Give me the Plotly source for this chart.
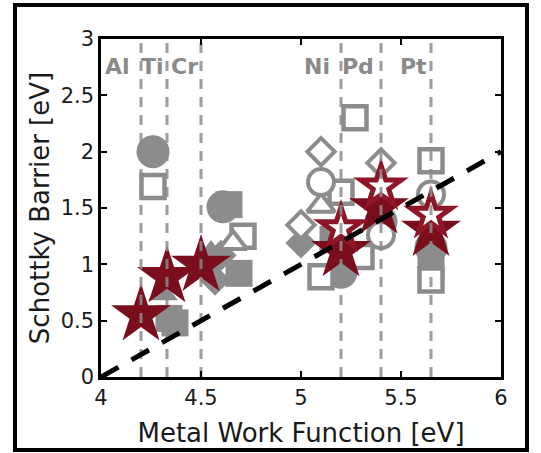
import plotly.graph_objects as go

# ---- data ----
metal_names = ["Al", "Ti", "Cr", "Ni", "Pd", "Pt"]
metal_lines = [4.20, 4.33, 4.50, 5.20, 5.40, 5.65]
label_x = [4.08, 4.255, 4.415, 5.08, 5.285, 5.56]
label_y = 2.76

gray_fcircle_x = [4.26, 4.61, 5.20, 5.65, 5.40]
gray_fcircle_y = [2.00, 1.51, 0.93, 1.15, 1.38]

gray_fsquare_x = [4.64, 4.69, 4.34, 5.65, 5.16, 4.37]
gray_fsquare_y = [1.53, 0.92, 0.52, 1.00, 1.22, 0.48]

gray_fdiamond_x = [4.57, 5.00, 4.60]
gray_fdiamond_y = [0.86, 1.19, 1.08]

gray_ftri_x = [4.31, 4.55]
gray_ftri_y = [0.74, 1.10]

gray_osquare_x = [4.26, 4.71, 5.27, 5.20, 5.10, 5.30, 5.65, 5.65]
gray_osquare_y = [1.69, 1.25, 2.30, 1.64, 0.89, 1.07, 1.92, 0.86]

gray_odiamond_x = [5.10, 5.00, 5.40]
gray_odiamond_y = [2.00, 1.35, 1.90]

gray_otri_x = [4.66, 5.10]
gray_otri_y = [1.19, 1.52]

gray_ocircle_x = [5.10, 5.40, 5.65]
gray_ocircle_y = [1.73, 1.26, 1.62]

star_x = [4.20, 4.33, 4.50, 5.20, 5.39, 5.65]
star_y = [0.55, 0.89, 0.99, 1.12, 1.50, 1.30]

ostar_x = [5.20, 5.40, 5.65]
ostar_y = [1.32, 1.69, 1.44]

fit_x = [4.0, 6.0]
fit_y = [0.0, 2.0]

x_ticks = [4, 4.5, 5, 5.5, 6]
x_ticklabels = ["4", "4.5", "5", "5.5", "6"]
y_ticks = [0, 0.5, 1, 1.5, 2, 2.5, 3]
y_ticklabels = ["0", "0.5", "1", "1.5", "2", "2.5", "3"]

GRAY = "#8c8c8c"
RED = "#7a0e1c"
RED2 = "#8e1627"
TXT = "#1a1a1a"

fig = go.Figure()

def add(x, y, symbol, size, fill, line_color=None, line_width=0):
    fig.add_trace(go.Scatter(
        x=x, y=y, mode="markers", hoverinfo="skip",
        marker=dict(symbol=symbol, size=size, color=fill,
                    line=dict(color=line_color or fill, width=line_width)),
    ))

# gray filled markers
add(gray_fsquare_x, gray_fsquare_y, "square", 27, GRAY)
add(gray_fcircle_x, gray_fcircle_y, "circle", 33, GRAY)
add(gray_fdiamond_x, gray_fdiamond_y, "diamond", 24, GRAY)
add(gray_ftri_x, gray_ftri_y, "triangle-up", 26, GRAY)
# gray open markers
add(gray_osquare_x, gray_osquare_y, "square", 23, "white", GRAY, 4.5)
add(gray_odiamond_x, gray_odiamond_y, "diamond", 21, "white", GRAY, 4)
add(gray_otri_x, gray_otri_y, "triangle-up", 24, "white", GRAY, 4)
add(gray_ocircle_x, gray_ocircle_y, "circle", 26, "white", GRAY, 4)
# red stars
add(star_x, star_y, "star", 45, RED)
add(ostar_x, ostar_y, "star", 42, RED2)
add(ostar_x, ostar_y, "star", 19, "white")

# vertical metal lines
for xv in metal_lines:
    fig.add_trace(go.Scatter(
        x=[xv, xv], y=[0, 3], mode="lines", hoverinfo="skip",
        line=dict(color="rgba(140,140,140,0.85)", width=3, dash="10px,8px"),
    ))

# fit line
fig.add_trace(go.Scatter(
    x=fit_x, y=fit_y, mode="lines", hoverinfo="skip",
    line=dict(color="black", width=5, dash="20px,15px"),
))

for name, lx in zip(metal_names, label_x):
    fig.add_annotation(x=lx, y=label_y, text="<b>%s</b>" % name, showarrow=False,
                       font=dict(family="DejaVu Sans", size=22, color="#8a8a8a"),
                       xanchor="center", yanchor="middle")

# outer frame
fig.add_shape(type="rect", xref="paper", yref="paper",
              x0=-0.215, x1=1.065, y0=-0.216, y1=1.1005,
              line=dict(color="black", width=4), fillcolor="rgba(0,0,0,0)")

axis_common = dict(showgrid=False, zeroline=False, showline=True, linecolor="black",
                   linewidth=2.5, mirror="ticks", ticks="inside", ticklen=6,
                   tickwidth=2, tickcolor="black", automargin=False,
                   tickfont=dict(family="DejaVu Sans", size=21, color=TXT))

fig.update_xaxes(range=[4, 6], tickvals=x_ticks, ticktext=x_ticklabels,
                 title=dict(text="Metal Work Function [eV]", standoff=15,
                            font=dict(family="DejaVu Sans", size=26, color=TXT)),
                 **axis_common)
fig.update_yaxes(range=[0, 3], tickvals=y_ticks, ticktext=y_ticklabels,
                 title=dict(text="Schottky Barrier [eV]", standoff=4,
                            font=dict(family="DejaVu Sans", size=26, color=TXT)),
                 **axis_common)

fig.update_layout(width=541, height=453, showlegend=False,
                  margin=dict(l=101, r=40, t=39, b=76),
                  plot_bgcolor="white", paper_bgcolor="white")

fig.write_html("out.html", config={"displayModeBar": False},
               post_script="document.body.style.margin='0';")
